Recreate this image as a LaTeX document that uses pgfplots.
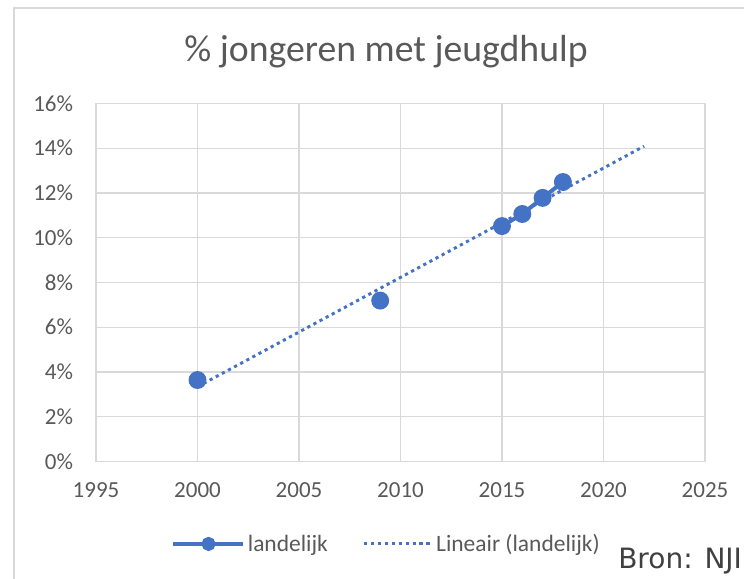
\documentclass[border=0pt]{standalone}
\usepackage{pgfplots}
\pgfplotsset{compat=1.18}
\usepackage{fontspec}
\setmainfont{Carlito}
\newfontfamily\bronfont{DejaVu Sans}
\definecolor{xlblue}{HTML}{4472C4}
\definecolor{xlgrid}{HTML}{D9D9D9}
\definecolor{xltext}{HTML}{595959}
\definecolor{xldark}{HTML}{404040}
\begin{document}
\begin{tikzpicture}
\useasboundingbox (-72pt,-88.1pt) rectangle (486pt,346.1pt);
\clip (-72pt,-88.1pt) rectangle (486pt,346.1pt);
\draw[xlgrid, line width=1pt] (-61.5pt,340.1pt) rectangle (600pt,-200pt);
\begin{axis}[
  at={(0pt,0pt)}, anchor=south west,
  scale only axis, width=456.75pt, height=268.5pt,
  xmin=1995, xmax=2025, ymin=0, ymax=16,
  xtick={1995,2000,...,2025}, ytick={0,2,...,16},
  yticklabel={\pgfmathprintnumber{\tick}\%},
  /pgf/number format/assume math mode=true,
  /pgf/number format/1000 sep={},
  major tick length=0pt,
  grid=major, grid style={xlgrid, line width=1pt},
  axis line style={xlgrid, line width=1pt},
  tick label style={font=\fontsize{17.25}{20}\selectfont, text=xltext},
  y tick label style={anchor=east, inner sep=0pt, xshift=-17pt},
  x tick label style={anchor=north, inner sep=0pt, yshift=-16pt},
  legend columns=2,
  legend style={at={(0.477,-0.2304)}, anchor=center, draw=none, fill=none,
    font=\fontsize{17.6}{20}\selectfont, text=xltext,
    /tikz/every even column/.append style={column sep=24pt}},
  unbounded coords=jump,
]
\addplot[xlblue, line width=3pt, mark=*, mark size=5.2pt,
  mark options={solid},
  legend image code/.code={
    \draw[xlblue, line width=3pt] (0pt,0pt) -- (53pt,0pt);
    \fill[xlblue] (27pt,0pt) circle (3.75pt);}]
  coordinates {(2000,3.64) (2004,nan) (2009,7.19) (2012,nan)
    (2015,10.52) (2016,11.06) (2017,11.78) (2018,12.49)};
\addlegendentry{landelijk}
\addplot[xlblue, line width=2.2pt, dash pattern=on 2.4pt off 2.8pt,
  legend image code/.code={
    \draw[xlblue, line width=2.2pt, dash pattern=on 2.4pt off 2.8pt] (0pt,0pt) -- (51pt,0pt);}]
  coordinates {(2000,3.34) (2022,14.09)};
\addlegendentry{Lineair (landelijk)}
\end{axis}
\node[font=\fontsize{28.3}{32}\selectfont, text=xltext] at (217.5pt,307.1pt) {\% jongeren met jeugdhulp};
\node[anchor=base west, font=\bronfont\fontsize{21}{24}\selectfont, text=xldark, inner sep=0pt] at (391.5pt,-80.6pt) {Bron: NJI};
\end{tikzpicture}
\end{document}
